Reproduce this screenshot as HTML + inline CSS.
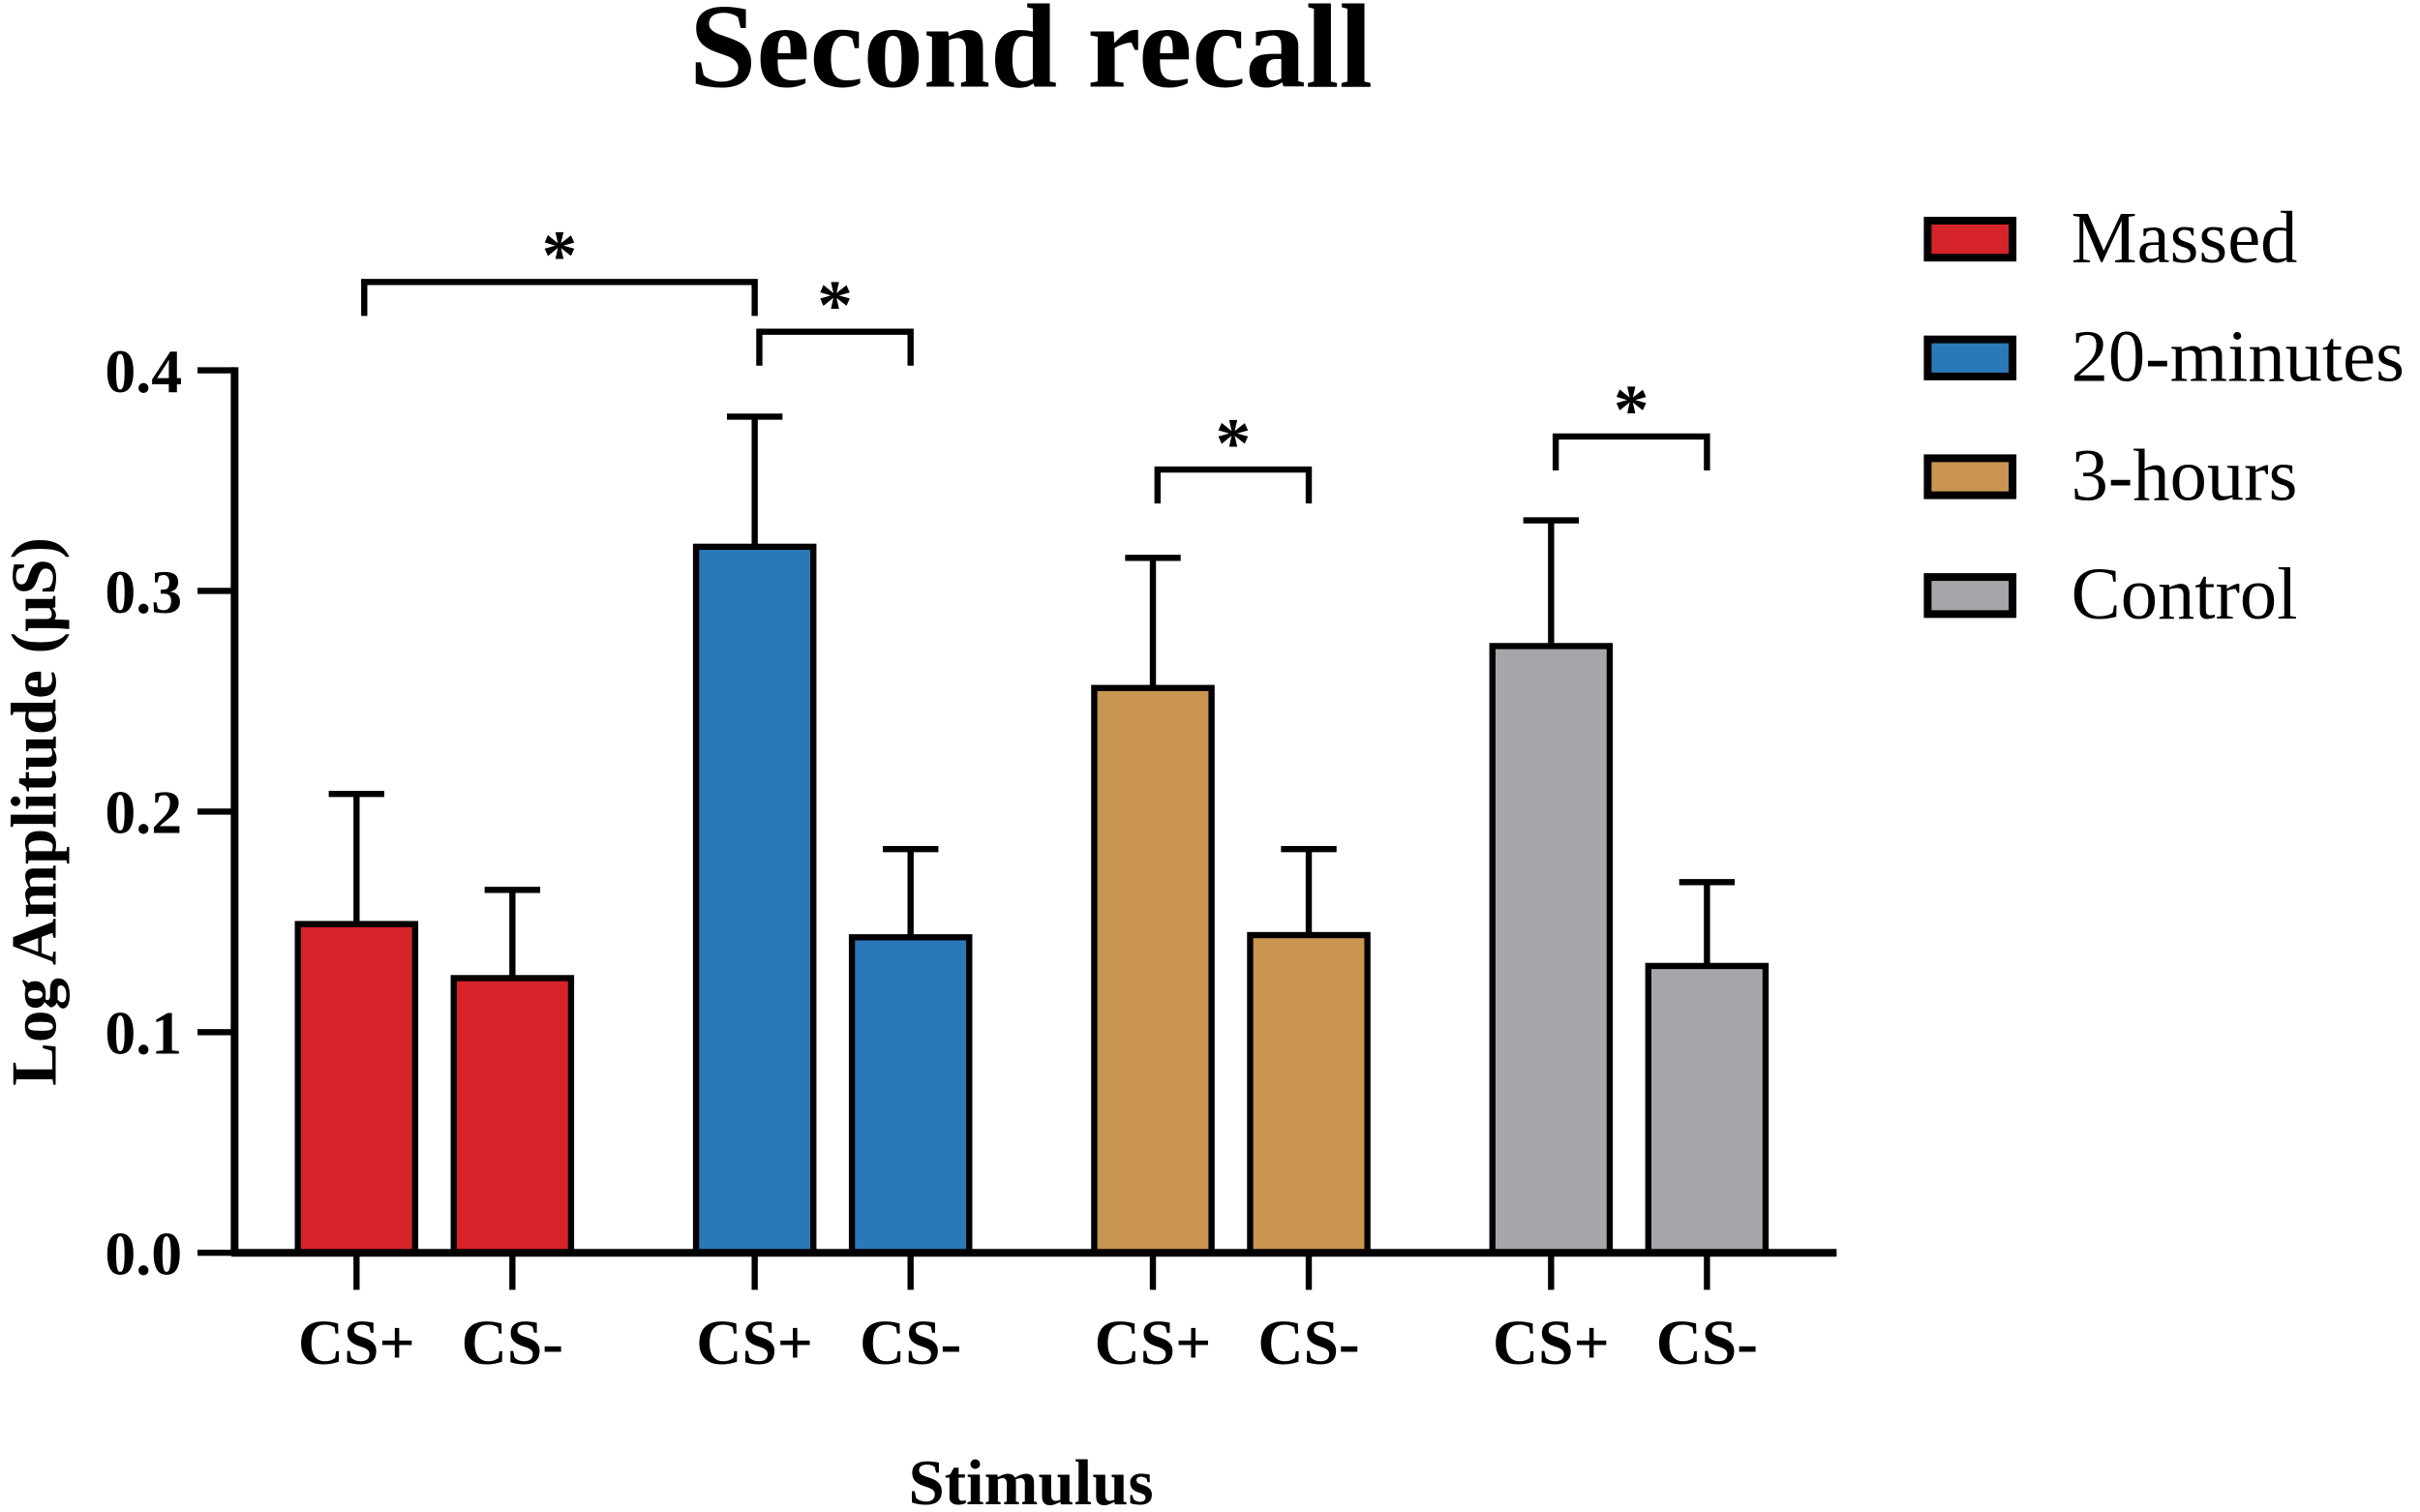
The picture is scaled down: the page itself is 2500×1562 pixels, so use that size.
<!DOCTYPE html>
<html><head><meta charset="utf-8"><style>
html,body{margin:0;padding:0;background:#fff;}
svg{display:block;}
text{font-family:"Liberation Serif",serif;fill:#000;}
</style></head><body>
<svg id="chart" width="2500" height="1562" viewBox="0 0 1568 980" preserveAspectRatio="none" xmlns="http://www.w3.org/2000/svg">
<text x="668" y="56" font-size="78" font-weight="bold" text-anchor="middle">Second recall</text>
<g id="plot"></g>
<text transform="translate(36,526) rotate(-90)" font-size="42" font-weight="bold" text-anchor="middle">Log Amplitude (µS)</text>
<text x="668" y="975" font-size="42" font-weight="bold" text-anchor="middle">Stimulus</text>
<g id="legend"></g>
</svg>
<script>
const groups = ["Massed","20-minutes","3-hours","Control"];
const colors = ["#d7232a","#2b78b8","#c99551","#a6a6aa"];
const stimuli = ["CS+","CS-"];
const csPlus = [0.149,0.320,0.256,0.275];
const csMinus = [0.1245,0.143,0.144,0.130];
const csPlusErr = [0.059,0.059,0.059,0.057];
const csMinusErr = [0.040,0.040,0.039,0.038];
const yTicks = [0.0,0.1,0.2,0.3,0.4];
const yTickLabels = ["0.0","0.1","0.2","0.3","0.4"];
// significance: [group a, bar a, group b, bar b]
const sigPairs = [[0,0,1,0],[1,0,1,1],[2,0,2,1],[3,0,3,1]];
const sigLevels = [0.440,0.4175,0.355,0.370];

const NS="http://www.w3.org/2000/svg";
const plot=document.getElementById('plot');
const legend=document.getElementById('legend');
const y0=812, pxPer=1430, axisX=152;
function yS(v){return y0-v*pxPer;}
function xS(g,b){return 231+g*258+b*101;}
function mk(tag,attrs,parent){const e=document.createElementNS(NS,tag);for(const k in attrs)e.setAttribute(k,attrs[k]);(parent||plot).appendChild(e);return e;}
const bw=76;
const vals=[csPlus,csMinus], errs=[csPlusErr,csMinusErr];
for(let g=0;g<groups.length;g++){
  for(let b=0;b<2;b++){
    const v=vals[b][g], e=errs[b][g], cx=xS(g,b);
    const eb=mk('line',{x1:cx,x2:cx,y1:yS(v),y2:yS(v+e),stroke:'#000','stroke-width':4});
    
    
    const cap=mk('line',{x1:cx-18,x2:cx+18,y1:yS(v+e),y2:yS(v+e),stroke:'#000','stroke-width':4});
    
    
    const r=mk('rect',{x:cx-bw/2,y:yS(v),width:bw,height:y0-yS(v),fill:colors[g],stroke:'#000','stroke-width':4});
    
    
    const t=mk('line',{x1:cx,x2:cx,y1:y0,y2:836,stroke:'#000','stroke-width':4});
    
    
    const tl=mk('text',{x:cx,y:884,'font-size':41,'font-weight':'bold','text-anchor':'middle'});
    tl.textContent=stimuli[b];
    
    
  }
}
const ya=mk('line',{x1:axisX,x2:axisX,y1:yS(0.4)-2,y2:y0+2,stroke:'#000','stroke-width':5});


const xa=mk('line',{x1:axisX-2,x2:1190,y1:y0,y2:y0,stroke:'#000','stroke-width':5});


yTicks.forEach((v,i)=>{
  const t=mk('line',{x1:axisX-24,x2:axisX,y1:yS(v),y2:yS(v),stroke:'#000','stroke-width':4});
  
  
  const l=mk('text',{x:118,y:yS(v)+14,'font-size':40,'font-weight':'bold','text-anchor':'end'});
  l.textContent=yTickLabels[i];
  
  
});
sigPairs.forEach((p,i)=>{
  const xa1=xS(p[0],p[1])+(p[0]===0?5:3), xb=xS(p[2],p[3]);
  const top=yS(sigLevels[i]);
  const path=mk('path',{d:`M${xa1} ${top+22} V${top} H${xb} V${top+22}`,fill:'none',stroke:'#000','stroke-width':4});
  
  
  const s=mk('text',{x:(xa1+xb)/2,y:top-2,'font-size':46,'font-weight':'bold','text-anchor':'middle'});
  s.textContent='*';
  
  
});
groups.forEach((g,i)=>{
  const yy=140+i*77;
  const r=mk('rect',{x:1249,y:yy+3,width:55,height:24,fill:colors[i],stroke:'#000','stroke-width':5},legend);
  
  
  const t=mk('text',{x:1342,y:yy+30,'font-size':48},legend);
  t.textContent=g;
  
  
});
</script>
</body></html>
